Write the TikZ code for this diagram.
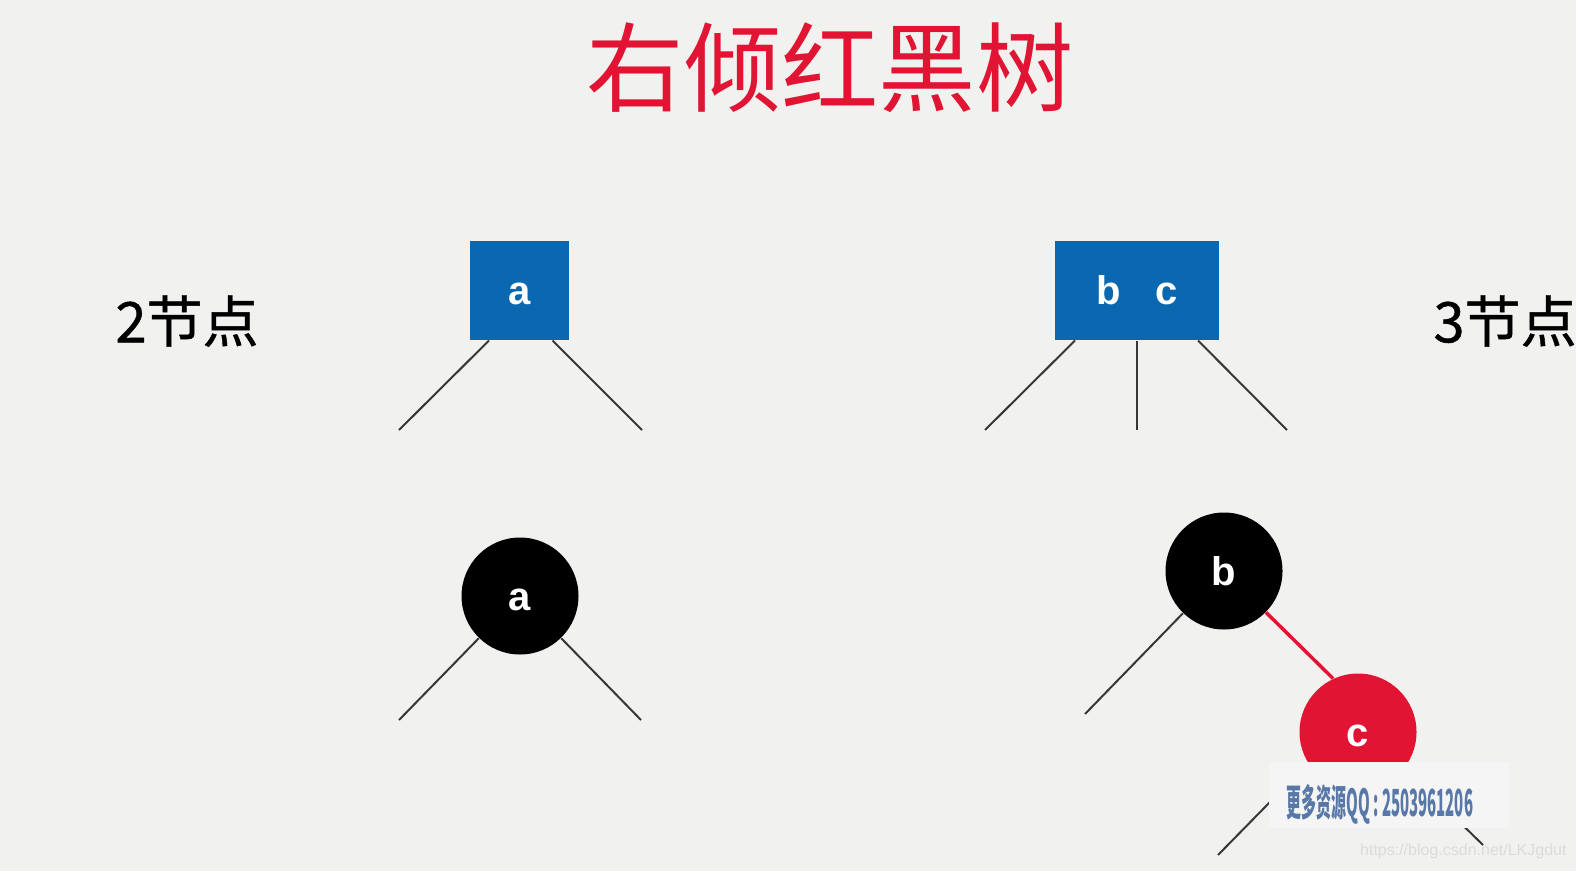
\documentclass[tikz,border=0pt]{standalone}
\usepackage{fontspec}
\setmainfont{Liberation Sans}
\newfontfamily\cjk{Noto Sans CJK SC}
\newfontfamily\cjkmid[FakeBold=0.8]{Noto Sans CJK SC}
\usetikzlibrary{calc}

\definecolor{bgcol}{RGB}{241,242,240}
\definecolor{treeblue}{RGB}{10,104,176}
\definecolor{treered}{RGB}{225,20,52}
\definecolor{edgegray}{RGB}{55,55,55}
\definecolor{wmblue}{RGB}{88,120,168}
\definecolor{wmbg}{RGB}{244,245,244}

\tikzset{every picture/.style={line width=0.75pt}}
\tikzset{
  keybox/.style={fill=treeblue, text=white, font=\bfseries\fontsize{30}{30}\selectfont,
    inner sep=0pt, minimum height=74.25pt, text height=21.6pt, text depth=0pt},
  rbnode/.style={circle, fill=#1, text=white, font=\bfseries\fontsize{30}{30}\selectfont,
    inner sep=0pt, minimum size=87.75pt, text height=21.6pt, text depth=0pt},
  link/.style={draw=edgegray, line width=1.5pt},
  redlink/.style={draw=treered, line width=2.6pt},
  kindlabel/.style={font=\cjkmid\fontsize{42}{42}\selectfont, inner sep=0pt, anchor=west},
}

\begin{document}
\begin{tikzpicture}[x=0.75pt,y=0.75pt,yscale=-1,xscale=1]
\path[use as bounding box, fill=bgcol] (0,0) rectangle (1576,871);
\clip (0,0) rectangle (1576,871);

% Title
\node [text=treered, font=\cjk\fontsize{73}{73}\selectfont, inner sep=0pt] (title) at (830,68) {右倾红黑树};
% Text Node
\node [kindlabel] (two) at (115,321) {2节点};
% Text Node
\node [kindlabel] (three) at (1433,321) {3节点};

%Shape: 2-node box
\node [keybox, minimum width=74.25pt] (boxa) at (519.5,290.5) {a};
%Shape: 3-node box
\node [keybox, minimum width=123pt] (boxbc) at (1137,290.5) {b\hspace{0.85em}c};

% free ends under the boxes
\coordinate (ea1) at (399,430);
\coordinate (ea2) at (642,430);
\coordinate (ebc1) at (985,430);
\coordinate (ebc2) at (1137,430);
\coordinate (ebc3) at (1287,430);

%Straight Lines
\draw [link] ($(boxa.south)+(-30.5,0)$) -- (ea1);
\draw [link] ($(boxa.south)+(33,0)$) -- (ea2);
\draw [link] ($(boxbc.south)+(-62,0)$) -- (ebc1);
\draw [link] (boxbc.south) -- (ebc2);
\draw [link] ($(boxbc.south)+(61,0)$) -- (ebc3);

%Shape: red-black nodes
\node [rbnode=black] (ra) at (520,596) {a};
\node [rbnode=black] (rb) at (1224,571) {b};
\node [rbnode=treered] (rc) at (1358,732) {c};

\coordinate (fa1) at (399,720);
\coordinate (fa2) at (641,720);
\coordinate (fb1) at (1085,714);
\coordinate (fc1) at (1218,855);
\coordinate (fc2) at (1483,845);

%Straight Lines
\draw [link] (ra) -- (fa1);
\draw [link] (ra) -- (fa2);
\draw [link] (rb) -- (fb1);
\draw [redlink] (rb) -- (rc.115);
\draw [link] (rc.212) -- (fc1);
\draw [link] (rc.322) -- (fc2);

% watermark
\node [fill=wmbg, minimum width=180pt, minimum height=49.5pt, inner sep=0pt] (wm) at (1389,795) {};
\node [text=wmblue, font=\cjk\bfseries\fontsize{28}{28}\selectfont, xscale=0.4, inner sep=0pt] (wmtext) at (1380,804) {更多资源QQ : 2503961206};
\node [text=black!14, font=\fontsize{12}{12}\selectfont, anchor=east, inner sep=0pt] (url) at (1567,851) {https://blog.csdn.net/LKJgdut};

\end{tikzpicture}
\end{document}
